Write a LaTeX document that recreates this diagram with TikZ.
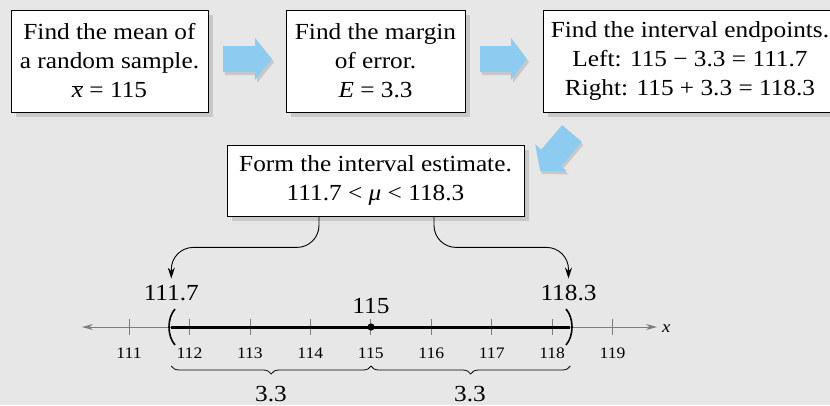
\documentclass[tikz,border=0pt]{standalone}
\usepackage{fontspec}
\setmainfont[FakeStretch=1.1]{Liberation Serif}
\usetikzlibrary{arrows.meta,shadows,decorations.pathreplacing,calc}
\definecolor{bgc}{RGB}{231,231,231}
\definecolor{shd}{RGB}{200,200,200}
\definecolor{arrblue}{RGB}{142,203,240}
\definecolor{axisgray}{RGB}{125,125,125}
\newcommand{\xbar}{$\overline{\hbox{\itshape x}}$}
\begin{document}
\begin{tikzpicture}[x=1pt,y=-1pt,
  box/.style={draw=black, line width=0.8pt, fill=white, align=center, inner sep=0pt,
    font=\fontsize{23}{29}\selectfont,
    drop shadow={shadow xshift=5pt, shadow yshift=-5pt, fill=shd, opacity=1}},
  blue/.style={fill=arrblue},
  blueshd/.style={fill=shd},
  axis/.style={draw=axisgray, line width=0.8pt, {Stealth[length=11pt,width=6pt]}-{Stealth[length=11pt,width=6pt]}},
  tick/.style={draw=axisgray, line width=0.8pt},
  ticklbl/.style={anchor=base, inner sep=1pt, font=\fontsize{16}{16}\selectfont},
  lbl/.style={anchor=base, inner sep=2pt, font=\fontsize{23}{23}\selectfont},
  conn/.style={draw=black, line width=0.9pt, rounded corners=22pt, -{Stealth[length=11pt,width=7pt]}, shorten >=4pt},
  paren/.style={draw=black, line width=1.6pt}
]
\useasboundingbox (0,0) rectangle (830,405);
\fill[bgc] (0,0) rectangle (830,405);
\clip (0,0) rectangle (830,405);

% boxes
\node[box, minimum width=197pt, minimum height=102pt] (b1) at (109.5,61)
  {Find the mean of\\a random sample.\\\xbar{} = 115};
\node[box, minimum width=179pt, minimum height=102pt] (b2) at (375.5,61)
  {Find the margin\\of error.\\{\itshape E} = 3.3};
\node[box, minimum width=294pt, minimum height=102pt] (b3) at (690,61)
  {Find the interval endpoints.\\Left: 115 − 3.3 = 111.7\\Right: 115 + 3.3 = 118.3};
\node[box, minimum width=297pt, minimum height=71pt] (b4) at (375.5,180.5)
  {Form the interval estimate.\\111.7 < {\itshape μ} < 118.3};

% blue arrows
\fill[blueshd] (225,49) -- (257,49) -- (257,41) -- (274,62) -- (257,83) -- (257,75) -- (225,75) -- cycle;
\fill[blue] (223,46) -- (255,46) -- (255,38) -- (272,59) -- (255,80) -- (255,72) -- (223,72) -- cycle;
\fill[blueshd] (482,49) -- (513,49) -- (513,41) -- (529,62) -- (513,83) -- (513,75) -- (482,75) -- cycle;
\fill[blue] (480,46) -- (511,46) -- (511,38) -- (527,59) -- (511,80) -- (511,72) -- (480,72) -- cycle;
\begin{scope}[shift={(1.5,3)}]
\fill[blueshd] (581.9,141.9) -- (561.1,166.3) -- (567.2,171.5) -- (540.2,170.8) -- (535.2,144.3) -- (541.3,149.5) -- (562.1,125.1) -- cycle;
\end{scope}
\fill[blue] (581.9,141.9) -- (561.1,166.3) -- (567.2,171.5) -- (540.2,170.8) -- (535.2,144.3) -- (541.3,149.5) -- (562.1,125.1) -- cycle;

% number line
\draw[axis] (82,327) -- (657,327);
\node[anchor=base west, inner sep=0pt, font=\fontsize{17}{17}\selectfont\itshape] (xl) at (662,332) {x};
\foreach \n in {111,...,119} {
  \draw[tick] ({129+60.45*(\n-111)},319) -- ({129+60.45*(\n-111)},335);
  \node[ticklbl] (t\n) at ({129+60.45*(\n-111)},358) {\n};
}
\draw[line width=3pt] (171.3,327) -- (570.3,327);
\fill (371,327) circle (3.6pt);
\draw[paren] (175,309) .. controls (167,318) and (167,336) .. (175,345);
\draw[paren] (566,309) .. controls (574,318) and (574,336) .. (566,345);

% labels
\node[lbl] (l1) at (171.3,300) {111.7};
\node[lbl] (l2) at (371,313) {115};
\node[lbl] (l3) at (568.5,300) {118.3};

% connectors
\draw[conn] ([xshift=-56.5pt]b4.south) -- ++(0,31) -| (l1.north);
\draw[conn] ([xshift=58.5pt]b4.south) -- ++(0,31) -| (l3.north);

% braces
\draw[line width=0.8pt, decorate, decoration={brace, amplitude=8pt, mirror}] (171.3,366) -- (371,366);
\draw[line width=0.8pt, decorate, decoration={brace, amplitude=8pt, mirror}] (371,366) -- (570.3,366);
\node[lbl] (d1) at (271,401) {3.3};
\node[lbl] (d2) at (470,401) {3.3};
\end{tikzpicture}
\end{document}
